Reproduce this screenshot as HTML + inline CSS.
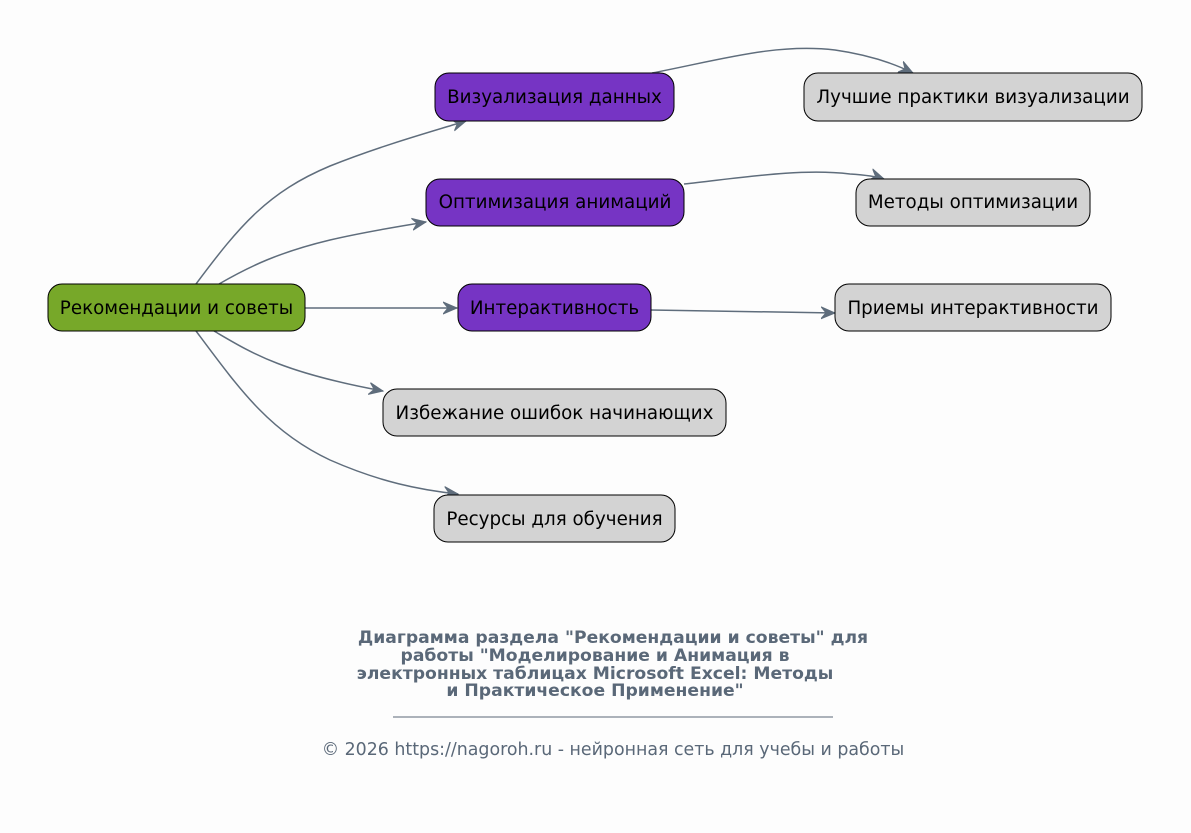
<!DOCTYPE html>
<html><head><meta charset="utf-8"><style>
body{margin:0;background:#fdfdfd;}
svg{display:block;font-family:"DejaVu Sans","Liberation Sans",sans-serif;}
</style></head><body>
<svg width="1191" height="833" viewBox="0 0 1191 833" xmlns="http://www.w3.org/2000/svg">
<defs>
<marker id="a" markerWidth="16" markerHeight="14" refX="14" refY="7" orient="auto" markerUnits="userSpaceOnUse">
<path d="M0,1 L14,7 L0,13 L5,7 z" fill="#5f6d7c" stroke="#5f6d7c" stroke-width="1"/>
</marker>
</defs>
<rect width="1191" height="833" fill="#fdfdfd"/>
<g fill="none" stroke="#5f6d7c" stroke-width="1.5" marker-end="url(#a)">
<path d="M196,284 C240,225 268,192 330,166 C380,146 430,132 466,121"/>
<path d="M219,284 C250,266 280,252 330,240 C360,233 395,227 426,222"/>
<path d="M305,308 L457,308"/>
<path d="M214,331 C250,352 280,372 383,391"/>
<path d="M196,331 C240,390 270,432 330,460 C380,482 420,490 458,494"/>
<path d="M652,73 C720,60 775,43 835,50 C870,55 895,64 913,73"/>
<path d="M684,184 C740,178 800,168 850,174 C865,175 878,177 884,179"/>
<path d="M651,310 L835,313"/>
</g>
<g stroke="#000" stroke-width="1">
<rect x="48" y="284" width="257" height="47" rx="14" fill="#77a829"/>
<rect x="435" y="73" width="239" height="48" rx="14" fill="#7634c4"/>
<rect x="426" y="179" width="258" height="47" rx="14" fill="#7634c4"/>
<rect x="458" y="284" width="193" height="47" rx="14" fill="#7634c4"/>
<rect x="383" y="389" width="343" height="47" rx="14" fill="#d3d3d3"/>
<rect x="434" y="495" width="241" height="47" rx="14" fill="#d3d3d3"/>
<rect x="804" y="73" width="338" height="48" rx="14" fill="#d3d3d3"/>
<rect x="856" y="179" width="234" height="47" rx="14" fill="#d3d3d3"/>
<rect x="835" y="284" width="276" height="47" rx="14" fill="#d3d3d3"/>
</g>
<g font-size="18.3" fill="#000" text-anchor="middle">
<text x="176.5" y="314">Рекомендации и советы</text>
<text x="554.5" y="103">Визуализация данных</text>
<text x="555" y="208">Оптимизация анимаций</text>
<text x="554.5" y="314">Интерактивность</text>
<text x="554.5" y="419">Избежание ошибок начинающих</text>
<text x="554.5" y="525">Ресурсы для обучения</text>
<text x="973" y="103">Лучшие практики визуализации</text>
<text x="973" y="208">Методы оптимизации</text>
<text x="973" y="314">Приемы интерактивности</text>
</g>
<g font-size="17.2" font-weight="bold" fill="#5a6878" text-anchor="middle">
<text x="613" y="643">Диаграмма раздела "Рекомендации и советы" для</text>
<text x="595" y="661">работы "Моделирование и Анимация в</text>
<text x="595" y="679">электронных таблицах Microsoft Excel: Методы</text>
<text x="595" y="696">и Практическое Применение"</text>
</g>
<line x1="393" y1="717" x2="833" y2="717" stroke="#5a6878" stroke-width="1"/>
<text x="613" y="755" font-size="17.4" fill="#5a6878" text-anchor="middle">© 2026 https://nagoroh.ru - нейронная сеть для учебы и работы</text>
</svg>
</body></html>
